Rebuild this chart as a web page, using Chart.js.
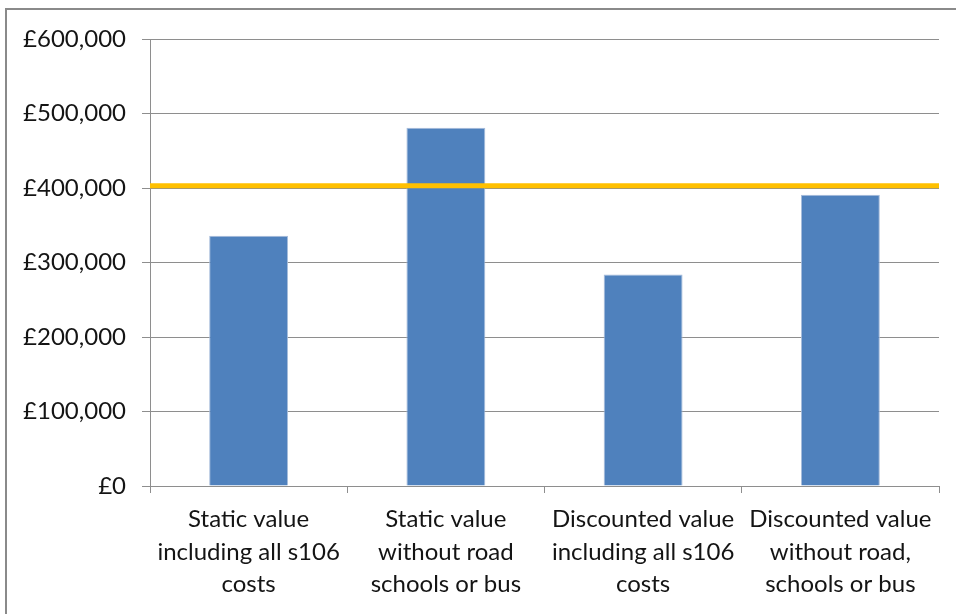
<!DOCTYPE html>
<html>
<head>
<meta charset="utf-8">
<script src="https://cdn.jsdelivr.net/npm/chart.js@4.4.1/dist/chart.umd.min.js"></script>
<style>
  html, body { margin: 0; padding: 0; background: #fff; overflow: hidden; }
  #wrap { position: relative; width: 956px; height: 614px; overflow: hidden; }
  #frame { position: absolute; left: 5px; top: 8px; width: 980px; height: 640px;
           border-left: 2px solid #8a8a8a; border-top: 2px solid #8a8a8a; }
  canvas { position: absolute; left: 0; top: 0; }
</style>
</head>
<body>
<div id="wrap">
  <div id="frame"></div>
  <canvas id="chart" width="956" height="614"></canvas>
</div>
<script>
// Category labels (one entry per bar, split into display lines)
const categories = [
  ['Static value', 'including all s106', 'costs'],
  ['Static value', 'without road', 'schools or bus'],
  ['Discounted value', 'including all s106', 'costs'],
  ['Discounted value', 'without road,', 'schools or bus']
];

// Residual land value for each scenario (£)
const residualValues = [336000, 481000, 284000, 391000];

// Benchmark value drawn as a horizontal line (£)
const benchmarkValue = 403000;

// Value axis tick labels
const yTickLabels = ['£0', '£100,000', '£200,000', '£300,000', '£400,000', '£500,000', '£600,000'];

const FONT = 'Lato, "Open Sans", sans-serif';
const TEXT = '#141414';
const GRID = '#8e8e8e';

new Chart(document.getElementById('chart'), {
  type: 'bar',
  data: {
    labels: categories,
    datasets: [
      {
        type: 'line',
        data: [{ x: 0, y: benchmarkValue }, { x: 1, y: benchmarkValue }],
        xAxisID: 'xLine',
        borderColor: '#FFC000',
        borderWidth: 5,
        pointRadius: 0,
        borderCapStyle: 'butt',
        order: 0
      },
      {
        data: residualValues,
        xAxisID: 'x',
        backgroundColor: '#4F81BD',
        borderColor: '#a7bcdb',
        borderWidth: 1,
        grouped: false,
        barPercentage: 0.4,
        categoryPercentage: 1,
        order: 1
      }
    ]
  },
  options: {
    responsive: false,
    animation: false,
    devicePixelRatio: 1,
    layout: { padding: { left: 0, right: 17, top: 39, bottom: 0 } },
    plugins: { legend: { display: false }, tooltip: { enabled: false } },
    scales: {
      x: {
        offset: true,
        grid: { drawOnChartArea: false, drawTicks: true, tickLength: 7, color: GRID, offset: true },
        border: { display: true, color: GRID, width: 1 },
        ticks: {
          color: TEXT,
          font: { family: FONT, size: 24, lineHeight: 1.36 },
          padding: 10,
          maxRotation: 0,
          autoSkip: false
        },
        afterFit: (s) => { s.height = 128; }
      },
      xLine: {
        type: 'linear',
        display: false,
        offset: false,
        min: 0,
        max: 1
      },
      y: {
        min: 0,
        max: 600000,
        ticks: {
          stepSize: 100000,
          color: TEXT,
          font: { family: FONT, size: 24 },
          padding: 16,
          callback: (v, i) => yTickLabels[i]
        },
        grid: { color: GRID, lineWidth: 1, tickLength: 8, drawTicks: true },
        border: { display: true, color: GRID, width: 1 },
        afterFit: (s) => { s.width = 150; }
      }
    }
  }
});
</script>
</body>
</html>
